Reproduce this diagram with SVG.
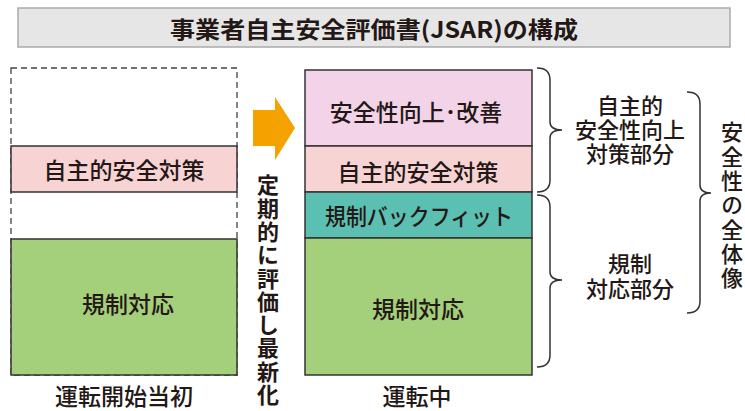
<svg xmlns="http://www.w3.org/2000/svg" width="745" height="411" viewBox="0 0 745 411">
<style>
text{font-family:"Noto Sans CJK JP","Noto Sans",sans-serif;fill:#231815;text-anchor:middle;dominant-baseline:central}
.box{stroke:#333;stroke-width:1.5}
.lbl{font-size:23px;font-weight:500}
.brace{fill:none;stroke:#333;stroke-width:1.5}
.vt{font-size:22px;font-weight:bold;writing-mode:vertical-rl;text-anchor:start;letter-spacing:1.3px}
.side{font-size:22px;font-weight:500}
.vs{font-size:22px;font-weight:500;writing-mode:vertical-rl;text-anchor:start;letter-spacing:2.3px}
</style>
<rect width="745" height="411" fill="#fff"/>
<g id="title">
<rect x="18" y="8" width="712" height="39" fill="#e6e6e6" stroke="#aaa" stroke-width="1.5"/>
<text x="374" y="28" font-size="23" font-weight="bold" textLength="408" lengthAdjust="spacingAndGlyphs">事業者自主安全評価書(JSAR)の構成</text>
</g>
<g id="left-stack">
<rect x="11" y="68" width="226" height="307" fill="none" stroke="#444" stroke-width="1.3" stroke-dasharray="6,4"/>
<g id="left-jishu"><rect class="box" x="11" y="146" width="226" height="46" fill="#f8d3d4"/><text class="lbl" x="124" y="169">自主的安全対策</text></g>
<g id="left-kisei"><rect class="box" x="11" y="239" width="226" height="136" fill="#a4cf7b"/><text class="lbl" x="128" y="303">規制対応</text></g>
<text id="left-caption" class="lbl" x="124" y="395">運転開始当初</text>
</g>
<g id="arrow">
<polygon points="253,110 275,110 275,97 295,128 275,160 275,146 253,146" fill="#f5a200"/>
<text class="vt" x="268" y="174">定期的に評価し最新化</text>
</g>
<g id="right-stack">
<g id="r-kojo"><rect class="box" x="305" y="70" width="227" height="76" fill="#f2d3e8"/><text class="lbl" x="416" y="111">安全性向上･改善</text></g>
<g id="r-jishu"><rect class="box" x="305" y="146" width="227" height="46" fill="#f8d3d4"/><text class="lbl" x="418" y="171">自主的安全対策</text></g>
<g id="r-backfit"><rect class="box" x="305" y="192" width="227" height="46" fill="#5bbfb1"/><text class="lbl" x="419" y="215" textLength="188" lengthAdjust="spacingAndGlyphs">規制バックフィット</text></g>
<g id="r-kisei"><rect class="box" x="305" y="238" width="227" height="137" fill="#a4cf7b"/><text class="lbl" x="418" y="308">規制対応</text></g>
<text id="right-caption" class="lbl" x="417" y="395">運転中</text>
</g>
<g id="connectors">
<path class="brace" d="M537,68 Q550,68 550,80 L550,122 Q550,130 562,130 Q550,130 550,138 L550,180 Q550,192 537,192"/>
<path class="brace" d="M537,195 Q550,195 550,207 L550,272 Q550,280 562,280 Q550,280 550,288 L550,355 Q550,367 537,367"/>
<path class="brace" d="M687,92 Q700,92 700,104 L700,185 Q700,193 711,193 Q700,193 700,201 L700,301 Q700,313 687,313"/>
</g>
<g id="label-jishu">
<text class="side" x="630" y="104">自主的</text>
<text class="side" x="630" y="128">安全性向上</text>
<text class="side" x="630" y="152">対策部分</text>
</g>
<g id="label-kisei">
<text class="side" x="630" y="262">規制</text>
<text class="side" x="630" y="287">対応部分</text>
</g>
<g id="label-zentai">
<text class="vs" x="732" y="121">安全性の全体像</text>
</g>
</svg>
